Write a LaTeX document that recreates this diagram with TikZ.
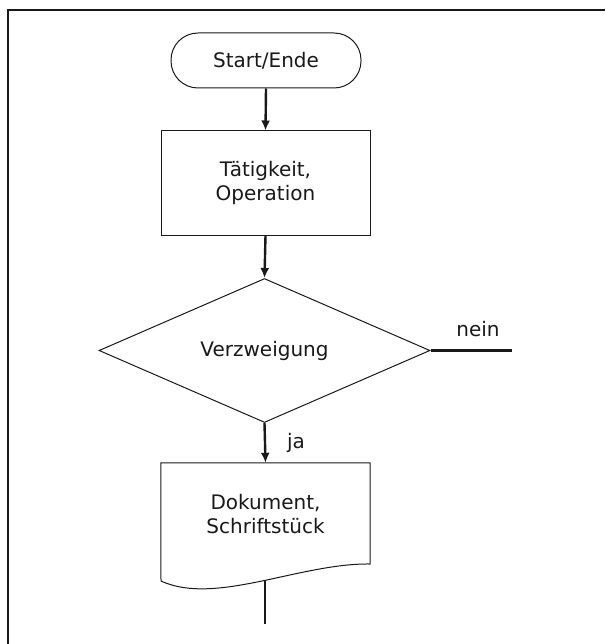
\documentclass[tikz,border=0pt]{standalone}
\usepackage{fontspec}
\setmainfont{DejaVu Sans}
\usetikzlibrary{shapes.geometric,arrows.meta}

\tikzset{
  outline/.style={draw=black!90, line width=1pt},
  flowtext/.style={font=\fontsize{20}{24}\selectfont, text=black!90, align=center},
  terminal/.style={outline, flowtext, rectangle, rounded corners=27pt,
    minimum width=190pt, minimum height=55pt, inner sep=0pt},
  process/.style={outline, flowtext, rectangle,
    minimum width=209pt, minimum height=104pt, inner sep=0pt},
  decision/.style={outline, flowtext, diamond, aspect=2.3,
    minimum width=331pt, minimum height=144pt, inner sep=0pt},
  docbox/.style={flowtext, rectangle, draw=none,
    minimum width=209pt, minimum height=102pt, inner sep=0pt},
  flowline/.style={draw=black!90, line width=2.4pt},
  flowarrow/.style={flowline, -{Latex[length=10pt,width=9pt]}},
  edgelabel/.style={font=\fontsize{20}{24}\selectfont, text=black!90},
  frame/.style={draw=black!90, line width=1.6pt}
}

\begin{document}
\begin{tikzpicture}[x=1pt, y=-1pt]
  \useasboundingbox (0,0) rectangle (605,644);

  % partial frame: only the top and left edges are shown
  \draw[frame] (8,644) -- (8,10) -- (605,10);

  % flowchart symbols
  \node[terminal] (start) at (266,60.5) {Start/Ende};
  \node[process]  (task)  at (265.5,183) {Tätigkeit,\\Operation};
  \node[decision] (dec)   at (264.5,350.5) {Verzweigung};
  \node[docbox]   (doc)   at (265.5,514) {Dokument,\\Schriftstück};

  % document symbol with wavy lower edge
  \draw[outline] (doc.north west) -- (doc.north east) -- (370,564)
    .. controls (300,563) and (215,606) .. (161,581) -- cycle;
  \coordinate (docbottom) at (265,581);
  \coordinate (docout) at (265,624);
  \coordinate (noend) at (512,350.5);

  % connectors
  \draw[flowarrow] (start.south) -- (task.north);
  \draw[flowarrow] (task.south) -- (dec.north);
  \draw[flowarrow] (dec.south) -- (doc.north);
  \draw[flowline] (dec.east) -- (noend);
  \draw[flowline] (docbottom) -- (docout);

  % branch labels
  \node[edgelabel] (nein) at (478,329) {nein};
  \node[edgelabel] (ja)   at (296,443) {ja};
\end{tikzpicture}
\end{document}
